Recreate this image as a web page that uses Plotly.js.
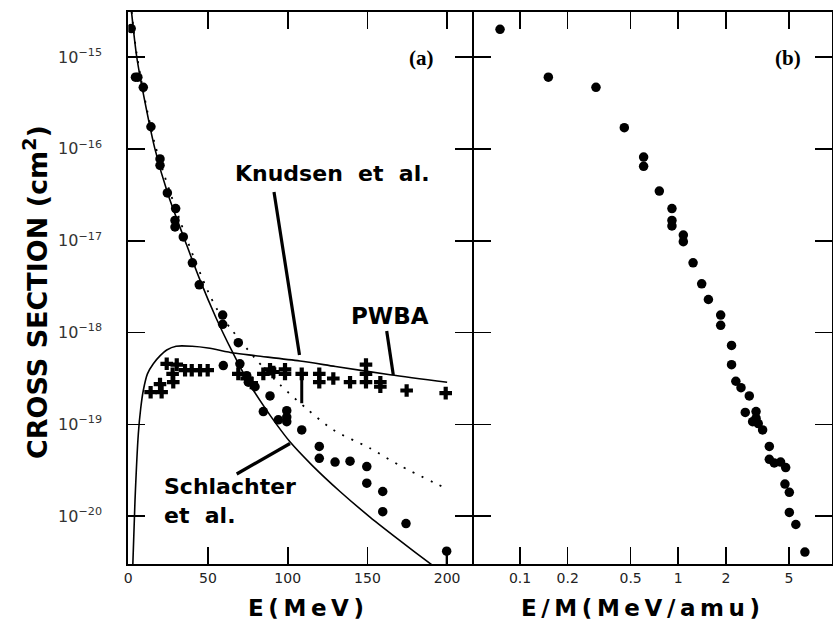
<!DOCTYPE html>
<html><head><meta charset="utf-8">
<script src="https://cdn.plot.ly/plotly-3.0.1.min.js"></script>
<style>html,body{margin:0;padding:0;background:#fff;}#chart{width:833px;height:622px;}</style>
</head><body><div id="chart"></div>
<script>
// ---------- Panel (a): E (MeV) ----------
const steepE   = [1.5, 5.3, 10, 16.7, 25, 35.6, 45, 55, 65, 75, 85, 93, 101.4, 115, 132.8, 151.6, 170, 191.3, 200];
const steepSig = [3.8e-15, 1.0e-15, 3.55e-16, 1.0e-16, 3.16e-17, 1.0e-17, 3.72e-18, 1.45e-18, 6.3e-19, 2.95e-19, 1.58e-19, 1.0e-19, 6.46e-20, 3.63e-20, 1.86e-20, 9.8e-21, 5.5e-21, 2.88e-21, 2.24e-21];

const dotE   = [1.5, 5.3, 16.7, 35.6, 50, 57.5, 64.9, 79.5, 95.2, 111.9, 128.6, 151.6, 170.5, 200.8];
const dotSig = [4.0e-15, 1.07e-15, 1.12e-16, 1.17e-17, 2.8e-18, 1.58e-18, 1.07e-18, 5.25e-19, 2.7e-19, 1.48e-19, 8.7e-20, 5.5e-20, 3.55e-20, 1.95e-20];

const pwbaE   = [2.5, 4.2, 6.3, 7.8, 9.4, 12, 15.7, 20, 24.1, 30, 40, 50, 65.9, 80, 107.7, 130, 164.2, 200];
const pwbaSig = [2.0e-21, 1.48e-20, 7.9e-20, 1.5e-19, 2.34e-19, 3.55e-19, 4.57e-19, 5.6e-19, 6.45e-19, 7.1e-19, 7.1e-19, 6.8e-19, 6.0e-19, 5.6e-19, 4.9e-19, 4.27e-19, 3.47e-19, 2.88e-19];

const circE   = [1.8, 4.5, 6.0, 9.4, 14.2, 19.9, 19.9, 24.5, 29.7, 29.3, 29.3, 34.5, 40.2, 44.5, 59.2, 59.2, 59.6, 69.0, 70.0, 74.3, 75.3, 79.5, 84.7, 88.9, 94.1, 99.4, 99.4, 99.4, 108.8, 119.8, 119.8, 129.7, 139.1, 149.6, 149.6, 159.6, 159.6, 174.2, 199.7];
const circSig = [2.04e-15, 6.03e-16, 6.03e-16, 4.68e-16, 1.74e-16, 7.76e-17, 6.61e-17, 3.31e-17, 2.24e-17, 1.66e-17, 1.41e-17, 1.10e-17, 5.75e-18, 3.31e-18, 1.55e-18, 1.23e-18, 4.37e-19, 7.76e-19, 4.57e-19, 3.39e-19, 2.88e-19, 2.57e-19, 1.38e-19, 2.04e-19, 1.12e-19, 1.41e-19, 1.20e-19, 1.07e-19, 8.71e-20, 5.75e-20, 4.27e-20, 3.89e-20, 3.98e-20, 3.47e-20, 2.29e-20, 1.86e-20, 1.12e-20, 8.32e-21, 4.17e-21];
const circErrMinus = [0,0,0,0,0,0,0,0,0,0,0,0,0,0,0,0,0,0,0,0,0,0,0,0,0,0,0,0,0,0,0,0,0,0,0,0,0,0,3.0e-21];

const crossE   = [14.0, 19.9, 20.9, 24.1, 27.8, 28.2, 30.4, 35.6, 39.8, 45.0, 49.8, 69.0, 74.3, 77.4, 84.7, 88.9, 91.0, 98.3, 98.3, 108.8, 119.8, 119.8, 128.6, 139.1, 149.1, 149.1, 149.1, 158.1, 158.1, 174.6, 199.1];
const crossSig = [2.24e-19, 2.75e-19, 2.24e-19, 4.57e-19, 3.55e-19, 2.88e-19, 4.47e-19, 3.89e-19, 3.89e-19, 3.89e-19, 3.89e-19, 3.55e-19, 3.16e-19, 2.82e-19, 3.55e-19, 3.98e-19, 3.72e-19, 3.98e-19, 3.55e-19, 3.55e-19, 3.55e-19, 2.88e-19, 3.16e-19, 2.88e-19, 4.47e-19, 3.55e-19, 2.88e-19, 2.88e-19, 2.57e-19, 2.34e-19, 2.19e-19];
const crossErrMinus = [0,0,0,0,0,0,0,0,0,0,0,0,0,0,0,0,0,0,0,1.85e-19,0,0,0,0,0,0,0,0,0,0,0];

// ---------- Panel (b): E/M (MeV/amu) ----------
const emVal  = [0.0748, 0.151, 0.302, 0.456, 0.604, 0.604, 0.759, 0.912, 0.912, 0.912, 1.076, 1.076, 1.24, 1.406, 1.55, 1.853, 1.853, 2.17, 2.17, 2.31, 2.49, 2.81, 2.65, 3.10, 2.95, 3.10, 3.20, 3.41, 3.76, 3.76, 4.04, 4.43, 4.77, 4.72, 5.03, 5.03, 5.53, 6.31];
const emSig  = [2.0e-15, 6.03e-16, 4.68e-16, 1.70e-16, 8.13e-17, 6.46e-17, 3.47e-17, 2.24e-17, 1.66e-17, 1.45e-17, 1.15e-17, 9.77e-18, 5.75e-18, 3.39e-18, 2.29e-18, 1.55e-18, 1.20e-18, 7.24e-19, 4.47e-19, 2.95e-19, 2.51e-19, 2.04e-19, 1.35e-19, 1.38e-19, 1.07e-19, 1.17e-19, 1.02e-19, 8.71e-20, 5.75e-20, 4.17e-20, 3.80e-20, 3.89e-20, 3.39e-20, 2.24e-20, 1.82e-20, 1.10e-20, 8.13e-21, 4.07e-21];

// ---------- Tick labels ----------
const xTicksA = [0, 50, 100, 150, 200];
const xTicksB = [0.1, 0.2, 0.5, 1, 2, 5];
const xTextB  = ['0.1', '0.2', '0.5', '1', '2', '5'];
const yTicks  = [1e-20, 1e-19, 1e-18, 1e-17, 1e-16, 1e-15];
const yText   = ['10<sup>\u221220</sup>', '10<sup>\u221219</sup>', '10<sup>\u221218</sup>', '10<sup>\u221217</sup>', '10<sup>\u221216</sup>', '10<sup>\u221215</sup>'];

// ---------- layout helpers (pixel -> paper) ----------
const W = 833, TOP = 12, BOT = 564;
const PX = p => p / W;
const PY = p => (BOT - p) / (BOT - TOP);

const black = '#000';
const traces = [
  {x: steepE, y: steepSig, xaxis: 'x', yaxis: 'y', mode: 'lines', line: {color: black, width: 1.6, shape: 'spline', smoothing: 0.8}, hoverinfo: 'skip'},
  {x: dotE, y: dotSig, xaxis: 'x', yaxis: 'y', mode: 'lines', line: {color: black, width: 1.8, dash: '2px,8px', shape: 'spline', smoothing: 0.8}, hoverinfo: 'skip'},
  {x: pwbaE, y: pwbaSig, xaxis: 'x', yaxis: 'y', mode: 'lines', line: {color: black, width: 1.6, shape: 'spline', smoothing: 0.8}, hoverinfo: 'skip'},
  {x: crossE, y: crossSig, xaxis: 'x', yaxis: 'y', mode: 'markers',
   marker: {symbol: 'cross', size: 10.5, color: black},
   error_y: {type: 'data', symmetric: false, array: crossErrMinus.map(() => 0), arrayminus: crossErrMinus, color: black, thickness: 3, width: 0}},
  {x: circE, y: circSig, xaxis: 'x', yaxis: 'y', mode: 'markers',
   marker: {symbol: 'circle', size: 9.5, color: black},
   error_y: {type: 'data', symmetric: false, array: circErrMinus.map(() => 0), arrayminus: circErrMinus, color: black, thickness: 2, width: 0}},
  {x: emVal, y: emSig, xaxis: 'x2', yaxis: 'y2', mode: 'markers', marker: {symbol: 'circle', size: 9.5, color: black}}
];

const axCommon = {
  showgrid: false, zeroline: false, showline: true, linecolor: black, linewidth: 2,
  ticks: 'inside', ticklen: 17, tickwidth: 1.6, tickcolor: black, mirror: 'ticks',
  tickfont: {family: 'DejaVu Sans', size: 14, color: '#222'}
};
const yRange = [-20.52, -14.51];

const layout = {
  width: 833, height: 622,
  margin: {l: 0, r: 0, t: TOP, b: 622 - BOT},
  paper_bgcolor: '#fff', plot_bgcolor: '#fff',
  showlegend: false,
  xaxis: Object.assign({}, axCommon, {domain: [PX(128.3), PX(472)], range: [0, 215.6], tickvals: xTicksA, ticklabelstandoff: 0, anchor: 'y'}),
  xaxis2: Object.assign({}, axCommon, {domain: [PX(474), PX(831.5)], type: 'log', range: [-1.2906, 0.968], tickvals: xTicksB, ticktext: xTextB, ticklabelstandoff: 0, anchor: 'y2'}),
  yaxis: Object.assign({}, axCommon, {type: 'log', range: yRange, tickvals: yTicks, ticktext: yText, ticklabelstandoff: 21, anchor: 'x', tickfont: {family: 'DejaVu Sans', size: 16, color: '#333'}}),
  yaxis2: Object.assign({}, axCommon, {type: 'log', range: yRange, tickvals: yTicks, showticklabels: false, anchor: 'x2'}),
  annotations: [
    {text: 'CROSS SECTION (cm<sup>2</sup>)', xref: 'paper', yref: 'paper', x: PX(35), y: PY(292), textangle: -90, showarrow: false,
     xanchor: 'center', yanchor: 'middle', font: {family: 'DejaVu Sans', size: 27, weight: 700, color: black}},
    {text: 'E\u2009(\u2009M\u2009e\u2009V\u2009)', xref: 'paper', yref: 'paper', x: PX(306), y: PY(608), showarrow: false,
     xanchor: 'center', yanchor: 'middle', font: {family: 'DejaVu Sans', size: 23, weight: 700, color: black}},
    {text: 'E\u2009/\u2009M\u2009(\u2009M\u2009e\u2009V\u2009/\u2009a\u2009m\u2009u\u2009)', xref: 'paper', yref: 'paper', x: PX(640), y: PY(608), showarrow: false,
     xanchor: 'center', yanchor: 'middle', font: {family: 'DejaVu Sans', size: 23, weight: 700, color: black}},
    {text: '(a)', xref: 'paper', yref: 'paper', x: PX(421), y: PY(58), showarrow: false, xanchor: 'center', yanchor: 'middle',
     font: {family: 'Liberation Serif', size: 21, weight: 700, color: black}},
    {text: '(b)', xref: 'paper', yref: 'paper', x: PX(788), y: PY(58), showarrow: false, xanchor: 'center', yanchor: 'middle',
     font: {family: 'Liberation Serif', size: 21, weight: 700, color: black}},
    {text: 'Knudsen  et  al.', xref: 'paper', yref: 'paper', x: PX(332), y: PY(174), showarrow: false, xanchor: 'center', yanchor: 'middle',
     font: {family: 'DejaVu Sans', size: 22, weight: 700, color: black}},
    {text: 'PWBA', xref: 'paper', yref: 'paper', x: PX(390), y: PY(316), showarrow: false, xanchor: 'center', yanchor: 'middle',
     font: {family: 'DejaVu Sans', size: 23, weight: 700, color: black}},
    {text: 'Schlachter', xref: 'paper', yref: 'paper', x: PX(162), y: PY(487), showarrow: false, xanchor: 'left', yanchor: 'middle',
     font: {family: 'DejaVu Sans', size: 22, weight: 700, color: black}},
    {text: 'et  al.', xref: 'paper', yref: 'paper', x: PX(162), y: PY(515), showarrow: false, xanchor: 'left', yanchor: 'middle',
     font: {family: 'DejaVu Sans', size: 22, weight: 700, color: black}}
  ],
  shapes: [
    {type: 'line', xref: 'paper', yref: 'paper', x0: PX(274), y0: PY(192), x1: PX(299.5), y1: PY(355), line: {color: black, width: 3.2}, layer: 'above'},
    {type: 'line', xref: 'paper', yref: 'paper', x0: PX(386.7), y0: PY(331), x1: PX(393.3), y1: PY(375), line: {color: black, width: 3.2}, layer: 'above'},
    {type: 'line', xref: 'paper', yref: 'paper', x0: PX(236.7), y0: PY(474), x1: PX(290), y1: PY(443.5), line: {color: black, width: 3.2}, layer: 'above'}
  ]
};

Plotly.newPlot('chart', traces, layout, {displayModeBar: false, staticPlot: true});
</script>
</body></html>
